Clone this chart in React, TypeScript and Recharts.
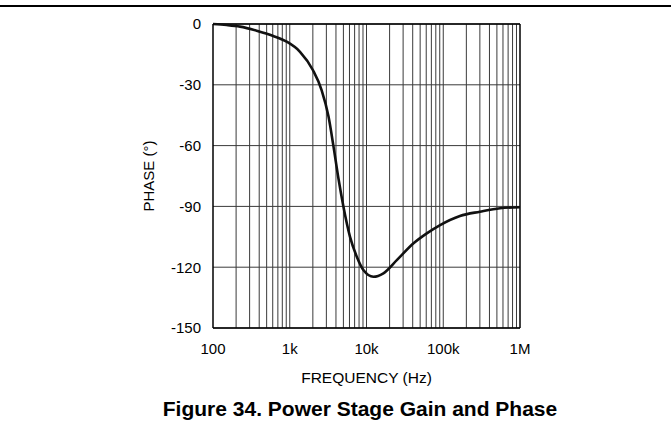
import { LineChart, Line, XAxis, YAxis, CartesianGrid, ReferenceLine } from 'recharts'

// phase response
const freqHz = [100, 150, 225, 370, 610, 910, 1360, 2000, 2600, 3200, 3700, 4300, 5000, 6100, 7500, 9100, 12300, 16600, 25000, 41000, 61000, 91000, 165000, 300000, 550000, 1000000]
const phaseDeg = [0, -0.5, -1.3, -3.3, -5.9, -8.7, -13.7, -22.7, -32.6, -45.7, -60, -76, -90, -105, -115, -121.4, -124.7, -123, -116.4, -108.2, -103.3, -99.2, -94.7, -92.6, -90.9, -90.4]

const xTicks = [100, 1000, 10000, 100000, 1000000]
const yTicks = [-150, -120, -90, -60, -30, 0]
const xLabels = ['100', '1k', '10k', '100k', '1M']

// log grid: 1..9 in each decade
const gridX = [2, 3, 4, 5, 6, 7, 8, 9].flatMap((m) => [100, 1000, 10000, 100000].map((d) => m * d)).concat([1000, 10000, 100000])

const data = freqHz.map((f, i) => ({ f, phase: phaseDeg[i] }))

const font = '"Liberation Sans", Arial, sans-serif'

export default function App() {
    return (
        <div style={{ position: 'absolute', left: 0, top: 0, width: 671, height: 435, background: '#fff', fontFamily: font }}>
            <div style={{ position: 'absolute', left: 0, top: 5, width: 671, height: 2, background: '#000' }} />
            <LineChart width={671} height={435} data={data} margin={{ top: 24, right: 151, bottom: 47, left: 163 }}>
                <CartesianGrid vertical={false} stroke="#3a3a3a" strokeWidth={1} />
                {gridX.map((x) => (
                    <ReferenceLine key={x} x={x} stroke="#3a3a3a" strokeWidth={1} />
                ))}
                <ReferenceLine y={0} stroke="#000" strokeWidth={1.5} />
                <ReferenceLine x={1000000} stroke="#000" strokeWidth={1.5} />
                <XAxis
                    dataKey="f"
                    type="number"
                    scale="log"
                    domain={[100, 1000000]}
                    ticks={xTicks}
                    tickFormatter={(v: number) => xLabels[xTicks.indexOf(v)] ?? ''}
                    tickLine={false}
                    tickSize={8}
                    tickMargin={7}
                    height={60}
                    axisLine={{ stroke: '#000', strokeWidth: 1.5 }}
                    tick={{ fill: '#000', fontSize: 15, fontFamily: font }}
                    label={{ value: 'FREQUENCY (Hz)', position: 'insideBottom', offset: 5, fill: '#000', fontSize: 15.5, fontFamily: font }}
                />
                <YAxis
                    type="number"
                    domain={[-150, 0]}
                    ticks={yTicks}
                    tickLine={false}
                    tickSize={0}
                    tickMargin={12}
                    width={50}
                    axisLine={{ stroke: '#000', strokeWidth: 1.5 }}
                    tick={{ fill: '#000', fontSize: 15, fontFamily: font }}
                    label={{ value: 'PHASE (°)', angle: -90, position: 'center', dx: -39, fill: '#000', fontSize: 15, fontFamily: font }}
                />
                <Line type="monotone" dataKey="phase" stroke="#111" strokeWidth={2.6} dot={false} isAnimationActive={false} />
            </LineChart>
            <div style={{ position: 'absolute', left: 160, top: 398, width: 400, textAlign: 'center', fontWeight: 'bold', fontSize: 21, lineHeight: '21px', color: '#000', whiteSpace: 'nowrap' }}>
                Figure 34. Power Stage Gain and Phase
            </div>
        </div>
    )
}
